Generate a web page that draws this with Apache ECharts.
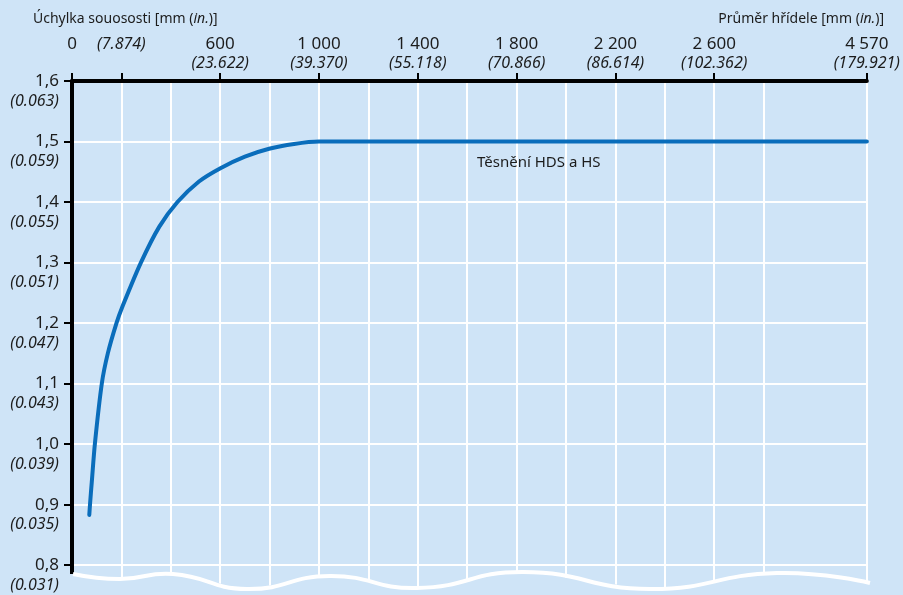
<!DOCTYPE html>
<html>
<head>
<meta charset="utf-8">
<script src="https://cdn.jsdelivr.net/npm/echarts@6/dist/echarts.min.js"></script>
<style>
  html, body { margin: 0; padding: 0; background: #cfe4f7; }
  #chart { width: 903px; height: 595px; }
</style>
</head>
<body>
<div id="chart"></div>
<script>
// průměr hřídele [mm] a úchylka souososti [mm]
const shaftMm = [70, 73, 80, 93, 121, 145, 180, 202, 278, 353, 427, 514, 601, 700, 798, 899, 1000, 4570]
const misalign = [0.883, 0.901, 0.937, 1.002, 1.101, 1.15, 1.2, 1.225, 1.299, 1.359, 1.4, 1.434, 1.456, 1.475, 1.488, 1.496, 1.5, 1.5]

// osa x (nahoře)
const xTickMm = [0, 200, 600, 1000, 1400, 1800, 2200, 2600, 4570]
const xTickMain = ['0', '', '600', '1 000', '1 400', '1 800', '2 200', '2 600', '4 570']
const xTickInch = ['', '7.874', '23.622', '39.370', '55.118', '70.866', '86.614', '102.362', '179.921']
const xGridMm = [200, 400, 600, 800, 1000, 1200, 1400, 1600, 1800, 2000, 2200, 2400, 2600, 2800, 4570]

// osa y
const yTicks = [0.8, 0.9, 1.0, 1.1, 1.2, 1.3, 1.4, 1.5, 1.6]
const yTickMain = ['0,8', '0,9', '1,0', '1,1', '1,2', '1,3', '1,4', '1,5', '1,6']
const yTickInch = ['0.031', '0.035', '0.039', '0.043', '0.047', '0.051', '0.055', '0.059', '0.063']
const yGrid = [0.8, 0.9, 1.0, 1.1, 1.2, 1.3, 1.4, 1.5]

// přerušená osa: do 2800 mm lineárně, pak stlačený úsek až po 4570 mm
const breakMm = 2800
const endMm = 4570
const endPos = 3218
function toPos(mm) {
  if (mm <= breakMm) return mm
  return breakMm + (mm - breakMm) * (endPos - breakMm) / (endMm - breakMm)
}

const bg = '#cfe4f7'
const textColor = '#1c1c1c'
const font = 'Noto Sans'

const chart = echarts.init(document.getElementById('chart'))

const xPos = xTickMm.map(toPos)
function xLabel(v) {
  const i = xPos.findIndex(p => Math.abs(p - v) < 0.5)
  if (i < 0) return ''
  if (!xTickMain[i]) return '{b|(' + xTickInch[i] + ')}\n{a| }'
  if (!xTickInch[i]) return '{a|' + xTickMain[i] + '}\n{a| }'
  return '{a|' + xTickMain[i] + '}\n{b|(' + xTickInch[i] + ')}'
}
function yLabel(v) {
  const i = yTicks.findIndex(t => Math.abs(t - v) < 0.001)
  if (i < 0) return ''
  return '{e| }\n{a|' + yTickMain[i] + '}\n{b|(' + yTickInch[i] + ')}'
}

// bílá vlnovka přerušení osy y
const wave = [[73, 574], [120, 579], [173, 574], [247, 589], [330, 576], [417, 588], [523, 572], [650, 589], [777, 573], [870, 583]]

const titleRich = {
  n: { fontFamily: font, fontSize: 14, fontWeight: 'normal', color: textColor },
  i: { fontFamily: font, fontSize: 14, fontWeight: 'normal', fontStyle: 'italic', color: textColor }
}

const option = {
  backgroundColor: bg,
  animation: false,
  textStyle: { fontFamily: font, color: textColor },
  title: [
    {
      text: '{n|Úchylka souososti [mm (}{i|in.}{n|)]}',
      left: 28, top: 7,
      textStyle: { fontWeight: 'normal', rich: titleRich }
    },
    {
      text: '{n|Průměr hřídele [mm (}{i|in.}{n|)]}',
      right: 14, top: 7,
      textStyle: { fontWeight: 'normal', rich: titleRich }
    },
    {
      text: 'Těsnění HDS a HS',
      left: 472, top: 150,
      textStyle: { fontFamily: font, fontSize: 15, fontWeight: 'normal', color: textColor }
    }
  ],
  grid: { left: 72, top: 81, right: 33, bottom: 5 },
  xAxis: {
    type: 'value',
    position: 'top',
    min: 0,
    max: endPos,
    z: 10,
    axisLine: { show: true, onZero: false, lineStyle: { color: '#000', width: 4 } },
    axisTick: { show: true, customValues: xPos, length: 8, lineStyle: { color: '#000', width: 2 } },
    axisLabel: {
      customValues: xPos,
      margin: 8,
      fontSize: 17,
      formatter: xLabel,
      rich: {
        a: { fontFamily: font, fontSize: 17, lineHeight: 19, color: textColor },
        b: { fontFamily: font, fontSize: 16, lineHeight: 19, fontStyle: 'italic', color: textColor }
      }
    },
    splitLine: { show: false }
  },
  yAxis: {
    type: 'value',
    min: 0.759,
    max: 1.6,
    z: 10,
    axisLine: { show: true, onZero: false, lineStyle: { color: '#000', width: 4 } },
    axisTick: { show: true, customValues: yTicks, length: 8, lineStyle: { color: '#000', width: 2 } },
    axisLabel: {
      customValues: yTicks,
      margin: 13,
      align: 'right',
      fontSize: 17,
      formatter: yLabel,
      rich: {
        e: { fontSize: 16, lineHeight: 20 },
        a: { fontFamily: font, fontSize: 17, lineHeight: 20, color: textColor, align: 'right' },
        b: { fontFamily: font, fontSize: 16, lineHeight: 20, fontStyle: 'italic', color: textColor, align: 'right' }
      }
    },
    splitLine: { show: false }
  },
  series: [
    {
      // mřížka
      type: 'line',
      data: [],
      z: 1,
      silent: true,
      markLine: {
        silent: true,
        symbol: ['none', 'none'],
        label: { show: false },
        emphasis: { disabled: true },
        lineStyle: { color: '#ffffff', width: 2, type: 'solid' },
        data: xGridMm.map(v => ({ xAxis: toPos(v) })).concat(yGrid.map(v => ({ yAxis: v })))
      }
    },
    {
      name: 'Těsnění HDS a HS',
      type: 'line',
      z: 5,
      smooth: 0.3,
      showSymbol: false,
      lineStyle: { color: '#0a6dbb', width: 4, cap: 'round' },
      data: shaftMm.map((mm, i) => [toPos(mm), misalign[i]])
    }
  ],
  graphic: [
    {
      type: 'polygon',
      z: 100,
      silent: true,
      shape: { points: [[69, 574]].concat(wave, [[874, 583], [874, 595], [69, 595]]), smooth: 0 },
      style: { fill: bg }
    },
    {
      type: 'polyline',
      z: 101,
      silent: true,
      shape: { points: wave, smooth: 0.5 },
      style: { stroke: '#ffffff', lineWidth: 4, fill: null }
    }
  ]
}

chart.setOption(option)
</script>
</body>
</html>
